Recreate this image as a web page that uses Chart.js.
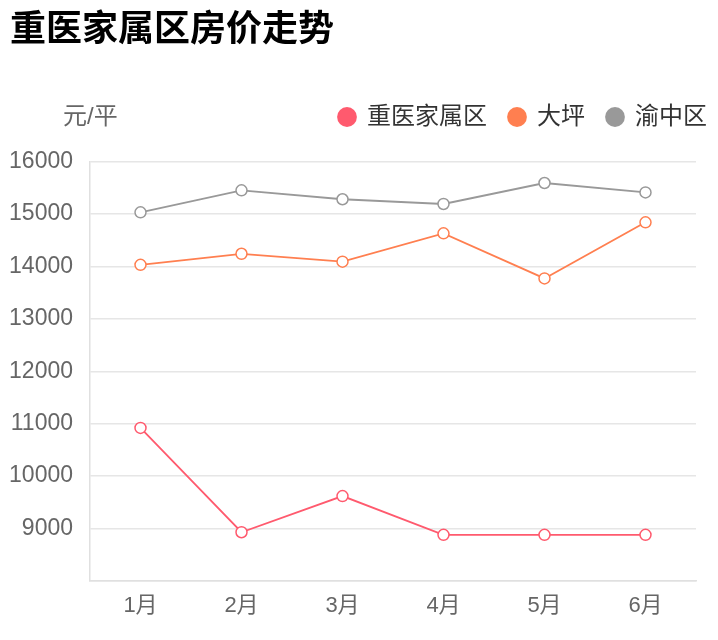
<!DOCTYPE html>
<html>
<head>
<meta charset="utf-8">
<script src="https://cdn.jsdelivr.net/npm/chart.js@4/dist/chart.umd.min.js"></script>
<style>
html,body{margin:0;padding:0;background:#fff;}
#wrap{width:718px;height:640px;}
</style>
</head>
<body>
<div id="wrap"><canvas id="c" width="718" height="640"></canvas></div>
<script>
const titleText = '重医家属区房价走势';
const unitText = '元/平';
const categories = ['1月','2月','3月','4月','5月','6月'];
const seriesNames = ['重医家属区','大坪','渝中区'];
const seriesColors = ['#ff5a6e','#ff7f50','#999999'];
const zhongyi = [10920, 8930, 9620, 8880, 8880, 8880];
const daping = [14030, 14240, 14090, 14630, 13770, 14840];
const yuzhong = [15030, 15450, 15280, 15190, 15590, 15410];
const yTicks = [8000, 9000, 10000, 11000, 12000, 13000, 14000, 15000, 16000];

const FONT = '"Liberation Sans", "Noto Sans CJK SC", sans-serif';
const CJK = '"Noto Sans CJK SC", "Liberation Sans", sans-serif';
const seriesValues = [zhongyi, daping, yuzhong];

const textPlugin = {
  id: 'headerTexts',
  afterDraw(chart) {
    const ctx = chart.ctx;
    const lg = chart.legend;
    ctx.save();
    ctx.textAlign = 'left';
    ctx.textBaseline = 'middle';
    ctx.font = 'bold 36px ' + CJK;
    ctx.fillStyle = '#000';
    ctx.fillText(titleText, 10, 27);
    const hb = lg.legendHitBoxes[0];
    const y = hb ? hb.top + hb.height / 2 : lg.top + 34;
    ctx.font = '24px ' + FONT;
    ctx.fillStyle = '#666';
    ctx.fillText(unitText, 63, y);
    ctx.restore();
  }
};

new Chart(document.getElementById('c'), {
  type: 'line',
  data: {
    labels: categories,
    datasets: seriesNames.map((n, i) => ({
      label: n,
      data: seriesValues[i],
      xAxisID: 'x',
      yAxisID: 'y',
      borderColor: seriesColors[i],
      backgroundColor: seriesColors[i],
      pointBackgroundColor: '#fff',
      pointBorderColor: seriesColors[i],
      pointBorderWidth: 1.5,
      pointRadius: 5.5,
      borderWidth: 1.8,
      tension: 0,
      fill: false
    }))
  },
  options: {
    responsive: false,
    animation: false,
    layout: { padding: { left: 0, right: -11, top: 83, bottom: 0 } },
    plugins: {
      title: { display: false },
      legend: {
        position: 'top',
        align: 'end',
        labels: {
          usePointStyle: true,
          pointStyle: 'circle',
          boxHeight: 14,
          boxWidth: 16,
          padding: 22,
          color: '#333',
          font: { size: 24, family: FONT },
          generateLabels(chart) {
            return chart.data.datasets.map((d, i) => ({
              text: d.label,
              fillStyle: seriesColors[i],
              strokeStyle: seriesColors[i],
              lineWidth: 0,
              pointStyle: 'circle',
              hidden: false,
              datasetIndex: i,
              fontColor: '#333'
            }));
          }
        }
      },
      tooltip: { enabled: false }
    },
    scales: {
      x: {
        offset: true,
        grid: { display: false, drawTicks: false },
        border: { display: true, color: '#e0e0e0', width: 1.5 },
        ticks: { color: '#666', padding: 12, font: { size: 22, family: FONT } },
        afterFit(s) { s.height = 59; }
      },
      xTop: {
        type: 'category',
        position: 'top',
        display: true,
        grid: { display: false, drawTicks: false },
        border: { display: false },
        ticks: { display: false },
        afterFit(s) { s.height = 22.5; }
      },
      y: {
        min: yTicks[0],
        max: yTicks[yTicks.length - 1],
        afterBuildTicks(scale) { scale.ticks = yTicks.map(v => ({ value: v })); },
        grid: { color: '#e6e6e6', lineWidth: 1.5, drawTicks: false },
        border: { display: true, color: '#e0e0e0', width: 1.5 },
        ticks: {
          color: '#666',
          padding: 17,
          font: { size: 23, family: FONT },
          callback(v) { return v === yTicks[0] ? '' : String(v); }
        },
        afterFit(s) { s.width = 90; }
      },
      yR: {
        position: 'right',
        display: true,
        grid: { display: false, drawTicks: false },
        border: { display: false },
        ticks: { display: false },
        afterFit(s) { s.width = 33; }
      }
    }
  },
  plugins: [textPlugin]
});
</script>
</body>
</html>
